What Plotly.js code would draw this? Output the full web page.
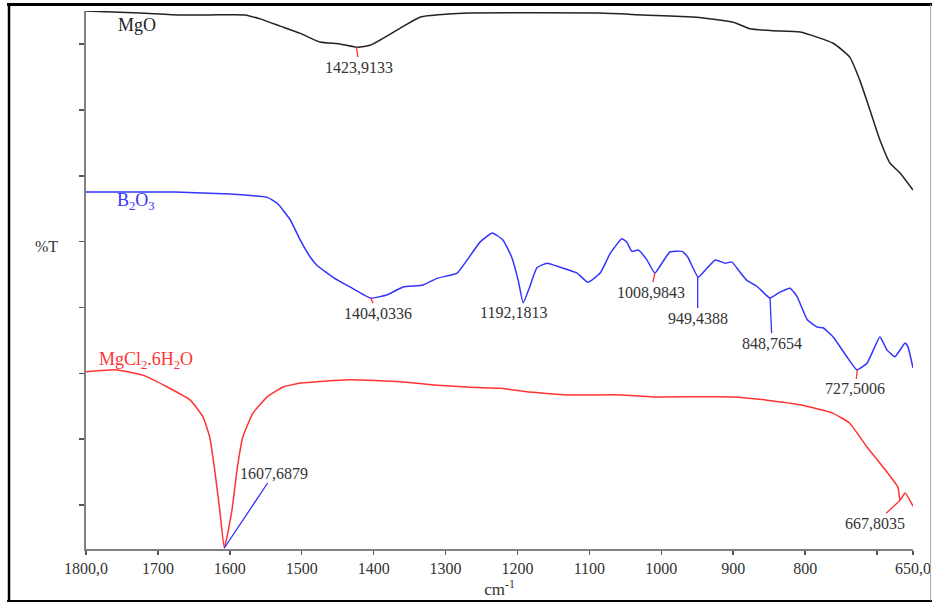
<!DOCTYPE html>
<html>
<head>
<meta charset="utf-8">
<script src="https://cdn.plot.ly/plotly-3.0.1.min.js"></script>
<style>
html,body{margin:0;padding:0;background:#fff;}
#chart{width:932px;height:603px;}
</style>
</head>
<body>
<div id="chart"></div>
<script>
// ---- Data (wavenumber cm-1, %T in arbitrary offset units) ----
const mgoX = [1800, 1725, 1669, 1628, 1579, 1558, 1530, 1502, 1475, 1447, 1422, 1405, 1391, 1363, 1335, 1301, 1266, 1085, 1025, 956, 900, 877, 845, 807, 761, 738, 724, 710, 696, 682, 668, 650];
const mgoY = [81.7, 81.4, 81.1, 81.1, 81.1, 80.5, 79.4, 78.3, 77.0, 76.7, 76.2, 76.5, 77.3, 79.1, 80.8, 81.2, 81.4, 81.4, 81.1, 80.8, 80.0, 79.0, 78.7, 78.5, 76.8, 74.7, 71.2, 66.7, 62.1, 58.6, 57.1, 54.5];

const b2o3X = [1800, 1676, 1600, 1548, 1534, 1516, 1502, 1488, 1479, 1457, 1433, 1404, 1381, 1359, 1331, 1312, 1284, 1270, 1252, 1235, 1220, 1208, 1199, 1192, 1183, 1173, 1159, 1141, 1117, 1102, 1085, 1071, 1055, 1048, 1041, 1032, 1020, 1009, 998, 988, 971, 963, 949, 936, 925, 911, 902, 891, 881, 867, 849, 835, 821, 811, 797, 783, 775, 761, 742, 728, 714, 696, 686, 675, 661, 657, 650];
const b2o3Y = [54.2, 54.2, 53.9, 53.4, 52.5, 50.0, 46.9, 44.3, 43.1, 41.3, 39.8, 38.1, 38.6, 39.8, 40.1, 41.1, 41.9, 43.9, 46.6, 48.0, 46.9, 44.3, 40.8, 37.4, 39.8, 42.7, 43.4, 42.8, 41.9, 40.5, 41.9, 44.9, 47.1, 46.6, 45.2, 45.4, 43.9, 41.9, 43.6, 45.1, 45.2, 44.3, 41.3, 42.7, 43.9, 43.4, 43.6, 42.1, 40.8, 39.9, 38.1, 39.0, 39.6, 38.3, 34.8, 33.7, 33.6, 32.2, 29.2, 27.2, 28.2, 32.2, 30.2, 29.2, 31.3, 30.7, 27.5];

const mgclX = [1800, 1757, 1721, 1687, 1655, 1637, 1628, 1621, 1614, 1607.7, 1597, 1590, 1582, 1568, 1548, 1526, 1502, 1433, 1363, 1317, 1270, 1224, 1178, 1131, 1057, 1012, 900, 853, 807, 761, 738, 714, 692, 671, 668, 661, 650];
const mgclY = [26.9, 27.2, 26.4, 24.6, 22.6, 20.0, 17.0, 12.0, 5.9, 0.15, 5.9, 12.0, 17.0, 20.6, 23.1, 24.6, 25.2, 25.7, 25.4, 24.9, 24.6, 24.4, 23.8, 23.4, 23.4, 23.1, 23.1, 22.6, 21.9, 20.6, 19.1, 15.5, 12.5, 9.4, 7.4, 8.5, 6.5];

const tickVals = [1800, 1700, 1600, 1500, 1400, 1300, 1200, 1100, 1000, 900, 800, 700, 650];
const tickText = ["1800,0", "1700", "1600", "1500", "1400", "1300", "1200", "1100", "1000", "900", "800", " ", "650,0"];

const peakX = [1423.9133, 1404.0336, 1192.1813, 1008.9843, 949.4388, 848.7654, 727.5006, 1607.6879, 667.8035];
const peakY = [76.2, 38.1, 37.4, 41.9, 41.3, 38.1, 27.2, 0.15, 7.4];
const peakLabel = ["1423,9133", "1404,0336", "1192,1813", "1008,9843", "949,4388", "848,7654", "727,5006", "1607,6879", "667,8035"];
const peakLineColor = ["#ff3333", "#ff3333", "#ff3333", "#ff3333", "#3333ff", "#3333ff", "#ff3333", "#3333ff", "#ff3333"];
const peakAx = [3, 7, -10, -4, 0, 2, -2, 50, -25];
const peakAy = [20, 15, 10, 19, 41, 45, 19, -75, 23];

const seriesNames = ["MgO", "B<sub>2</sub>O<sub>3</sub>", "MgCl<sub>2</sub>.6H<sub>2</sub>O"];
const seriesColors = ["#222222", "#3333ff", "#ff3333"];

const serif = "Liberation Serif, Times New Roman, serif";

const traces = [
  {x: mgoX, y: mgoY, name: seriesNames[0], mode: "lines", line: {color: seriesColors[0], width: 1.5, shape: "spline", smoothing: 0.5}},
  {x: b2o3X, y: b2o3Y, name: seriesNames[1], mode: "lines", line: {color: seriesColors[1], width: 1.5, shape: "spline", smoothing: 0.4}},
  {x: mgclX, y: mgclY, name: seriesNames[2], mode: "lines", line: {color: seriesColors[2], width: 1.5, shape: "spline", smoothing: 0.4}}
];

const annotations = [];
for (let i = 0; i < peakX.length; i++) {
  annotations.push({
    x: peakX[i], y: peakY[i], xref: "x", yref: "y",
    text: peakLabel[i], showarrow: true, arrowhead: 0, arrowwidth: 1.3,
    arrowcolor: peakLineColor[i], ax: peakAx[i], ay: peakAy[i], standoff: 0,
    font: {family: serif, size: 16, color: "#333"}
  });
}
// series labels
annotations.push({x: 1729, y: 79.6, xref: "x", yref: "y", text: seriesNames[0], showarrow: false,
  xanchor: "center", yanchor: "middle", font: {family: serif, size: 18, color: "#222"}});
annotations.push({x: 1760, y: 52.7, xref: "x", yref: "y", text: seriesNames[1], showarrow: false,
  xanchor: "left", yanchor: "middle", font: {family: serif, size: 18, color: seriesColors[1]}});
annotations.push({x: 1785, y: 28.7, xref: "x", yref: "y", text: seriesNames[2], showarrow: false,
  xanchor: "left", yanchor: "middle", font: {family: serif, size: 18, color: seriesColors[2]}});
// %T y label
annotations.push({x: -0.048, y: 0.563, xref: "paper", yref: "paper", text: "%T", showarrow: false,
  xanchor: "center", yanchor: "middle", font: {family: serif, size: 16, color: "#333"}});

const layout = {
  width: 932, height: 603,
  margin: {l: 86, r: 19, t: 11, b: 54},
  paper_bgcolor: "#fff", plot_bgcolor: "#fff",
  showlegend: false,
  xaxis: {
    range: [1800, 650], tickmode: "array", tickvals: tickVals, ticktext: tickText,
    ticks: "outside", ticklen: 4, tickwidth: 1.5, tickcolor: "#555",
    showline: true, linecolor: "#808080", linewidth: 2, showgrid: false, zeroline: false,
    tickfont: {family: serif, size: 16, color: "#333"},
    title: {text: "cm<sup>-1</sup>", font: {family: serif, size: 17, color: "#333"}, standoff: 2},
    automargin: false
  },
  yaxis: {
    range: [0, 81.7], tick0: 6.68, dtick: 10, ticks: "outside", ticklen: 5, tickwidth: 1.5, tickcolor: "#555",
    showticklabels: false, showline: true, linecolor: "#808080", linewidth: 2,
    showgrid: false, zeroline: false, automargin: false
  },
  annotations: annotations,
  shapes: [
    {type: "line", xref: "paper", yref: "paper", x0: -0.0955, x1: 1.023, y0: 1.0121, y1: 1.0121, line: {color: "#000", width: 3}},
    {type: "line", xref: "paper", yref: "paper", x0: -0.0931, x1: -0.0931, y0: 1.015, y1: -0.095, line: {color: "#000", width: 2.5}},
    {type: "line", xref: "paper", yref: "paper", x0: -0.0955, x1: 1.023, y0: -0.0966, y1: -0.0966, line: {color: "#000", width: 2}},
    {type: "line", xref: "paper", yref: "paper", x0: 1.0212, x1: 1.0212, y0: 1.012, y1: -0.096, line: {color: "#aaa", width: 1}}
  ]
};

Plotly.newPlot("chart", traces, layout, {displayModeBar: false, staticPlot: true});
</script>
</body>
</html>
